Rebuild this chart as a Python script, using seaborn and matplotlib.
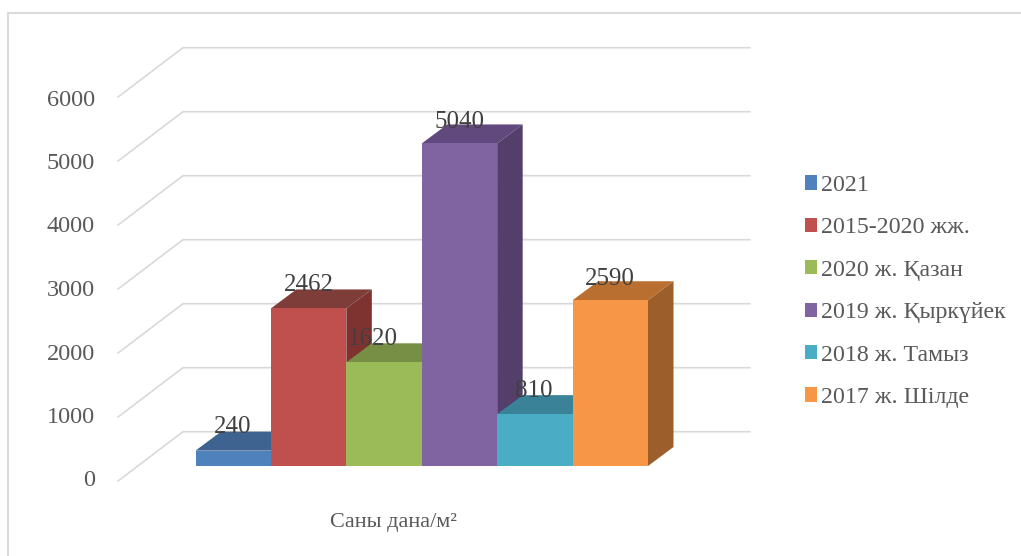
import matplotlib
matplotlib.use("Agg")
import matplotlib.pyplot as plt
from matplotlib.lines import Line2D
from matplotlib.patches import Polygon, Rectangle
from matplotlib.transforms import ScaledTranslation
import seaborn as sns
import pandas as pd

categories = ["2021", "2015-2020 жж.", "2020 ж. Қазан", "2019 ж. Қыркүйек", "2018 ж. Тамыз", "2017 ж. Шілде"]
values = [240, 2462, 1620, 5040, 810, 2590]
colors = ["#4F81BD", "#C0504D", "#9BBB59", "#8064A2", "#4BACC6", "#F79646"]
top_colors = ["#3E6390", "#7F3D3A", "#778F44", "#62497D", "#398297", "#B96F30"]
side_colors = ["#33527A", "#7F3330", "#66793A", "#533F69", "#2F6D80", "#9C5F2B"]
ticks = [0, 1000, 2000, 3000, 4000, 5000, 6000]
axis_title = "Саны дана/м²"

W, H, DPI = 1021, 556, 100
sns.set_theme(style="white")
plt.rcParams["font.family"] = ["Liberation Serif", "DejaVu Serif"]
TEXT = "#595959"
GRID = "#D9D9D9"

fig = plt.figure(figsize=(W / DPI, H / DPI), dpi=DPI)
# frame of the chart area: only its top and left edges are in the picture
fig.add_artist(Line2D([8 / W, 8 / W, 1], [0, 1 - 13 / H, 1 - 13 / H], transform=fig.transFigure,
                      color=GRID, lw=1.4, solid_joinstyle="miter"))

# axes: front plane of the bars (x 195.5-648 px; y 0 at 466 px, 64 px per 1000)
PX_Y = 0.0640
left, right, base = 195.5, 648.0, 466.0
ymax = base / PX_Y
ax = fig.add_axes([left / W, 1 - base / H, (right - left) / W, base / H])
ax.set_facecolor("none")

df = pd.DataFrame({"cat": categories, "val": values})
PX_X = 6 / (right - left)


def dx(px):
    return px * PX_X


def dy(px):
    return px / PX_Y


# back wall and left wall gridlines
wall_back_l, wall_back_r = -0.5 + dx(183 - left), -0.5 + dx(750 - left)
wall_front_l = -0.5 + dx(118 - left)
for t in ticks:
    yb = t + dy(466 - 431.7)
    yf = t + dy(466 - 481)
    ax.plot([wall_front_l, wall_back_l, wall_back_r], [yf, yb, yb], color=GRID, lw=1.2,
            solid_joinstyle="miter", clip_on=False, zorder=1)

sns.barplot(data=df, x="cat", y="val", hue="cat", palette=colors, order=categories,
            hue_order=categories, width=1.0, dodge=False, legend=False, ax=ax, saturation=1,
            zorder=3, linewidth=0, edgecolor="none")
ax.set_xlim(-0.5, 5.5)
ax.set_ylim(0, ymax)

ddx, ddy = dx(25.5), dy(19)
for i, (v, tc, sc) in enumerate(zip(values, top_colors, side_colors)):
    x0, x1 = i - 0.5, i + 0.5
    ax.add_patch(Polygon([(x0, v), (x1, v), (x1 + ddx, v + ddy), (x0 + ddx, v + ddy)],
                         fc=tc, ec="none", zorder=2, clip_on=False))
    ax.add_patch(Polygon([(x1, 0), (x1 + ddx, ddy), (x1 + ddx, v + ddy), (x1, v)],
                         fc=sc, ec="none", zorder=2, clip_on=False))

# y tick labels sit on the front edge of the left wall
ax.set_yticks(ticks)
ax.set_yticklabels([str(t) for t in ticks])
ax.set_xticks([])
ax.set_xlabel("")
ax.set_ylabel("")
ax.tick_params(axis="y", length=0, pad=0, labelsize=17.5, labelcolor=TEXT)
for t, lab in zip(ticks, ax.get_yticklabels()):
    shift = ScaledTranslation(-(left - 95) / DPI, -(12.5 + 3 * t / 6000) / DPI, fig.dpi_scale_trans)
    lab.set_transform(lab.get_transform() + shift)
for s in ax.spines.values():
    s.set_visible(False)

# data labels
label_x_px = [232.5, 308.5, 372.5, 459, 534, 609.5]
label_rise_px = [23.5, 23.5, 23.5, 21.5, 23.5, 21.5]
for i, v in enumerate(values):
    cy_px = 466 - v * PX_Y - label_rise_px[i]
    ax.text(-0.5 + dx(label_x_px[i] - left), dy(466 - cy_px), str(v), ha="center", va="center",
            fontsize=18, color="#404040", zorder=6, clip_on=False)

# axis title
ax.text(-0.5 + dx(393 - left), dy(466 - 522), axis_title, ha="center", va="center",
        fontsize=16, color=TEXT, clip_on=False)

# legend
handles = [Rectangle((0, 0), 1, 1, fc=c, ec="none") for c in colors]
fig.legend(handles, categories, loc="upper left", bbox_to_anchor=(804.5 / W, 1 - 175 / H),
           bbox_transform=fig.transFigure, frameon=False, fontsize=17.2, labelcolor=TEXT,
           handlelength=0.54, handleheight=0.54, handletextpad=0.17, labelspacing=0.896,
           borderpad=0, borderaxespad=0)

fig.savefig("out.png", dpi=DPI, facecolor="white")
